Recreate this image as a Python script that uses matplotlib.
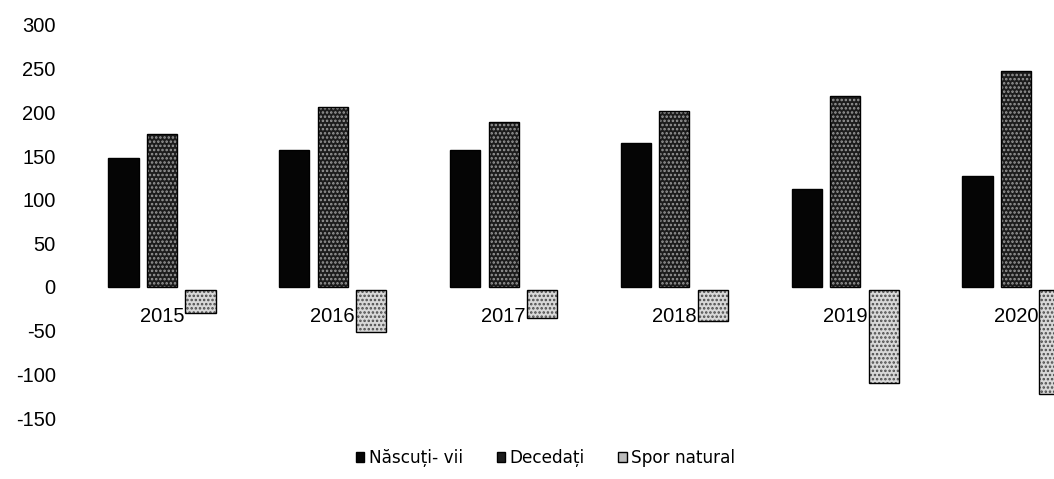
import matplotlib
matplotlib.use("Agg")
import matplotlib.pyplot as plt
from matplotlib import font_manager
from matplotlib.patches import Patch
import numpy as np

years = ["2015", "2016", "2017", "2018", "2019", "2020"]
nascuti = [148, 157, 157, 165, 112, 127]
decedati = [175, 206, 189, 201, 219, 247]
spor = [-27, -49, -32, -36, -107, -120]
series_names = ["Născuți- vii", "Decedați", "Spor natural"]
yticks = [-150, -100, -50, 0, 50, 100, 150, 200, 250, 300]

avail = {f.name for f in font_manager.fontManager.ttflist}
axis_font = "Liberation Sans" if "Liberation Sans" in avail else "DejaVu Sans"
plt.rcParams["font.family"] = ["DejaVu Sans"]
plt.rcParams["hatch.linewidth"] = 1.2

W, H = 1054, 479
fig = plt.figure(figsize=(W / 100, H / 100), dpi=100)
left_px, cat_px = 76.6, 170.8
ax_left = left_px / W
ax_bottom = (H - 418) / H
ax_top = (H - 25) / H
ax = fig.add_axes([ax_left, ax_bottom, 1 - ax_left, ax_top - ax_bottom])

x = np.arange(len(years))
step = 0.2254
width = 0.176

ax.bar(x - step, nascuti, width, color="#050505", edgecolor="black", linewidth=1)
ax.bar(x, decedati, width, color="#1c1c1c", hatch="....", edgecolor="#9a9a9a", linewidth=0)
ax.bar(x, decedati, width, color="none", edgecolor="black", linewidth=1)
sp_bottom = -3.0
ax.bar(x + step, spor, width, bottom=sp_bottom, color="#d8d8d8", hatch="....", edgecolor="#4a4a4a", linewidth=0)
ax.bar(x + step, spor, width, bottom=sp_bottom, color="none", edgecolor="black", linewidth=1)

xmax = -0.5 + (W - left_px) / cat_px
ax.set_xlim(-0.5, xmax)
ax.set_ylim(-150, 300)
ax.set_yticks(yticks)
ax.set_yticklabels([str(v) for v in yticks], fontsize=14.5, family=[axis_font, "DejaVu Sans"])
ax.tick_params(axis="y", length=0, pad=15)
ax.set_xticks([])
for s in ax.spines.values():
    s.set_visible(False)

for xi, yr in zip(x, years):
    ax.annotate(yr, xy=(xi, 0), xytext=(0, -29.5 * 72 / 100), textcoords="offset points",
                ha="center", va="center", fontsize=14.5, family=[axis_font, "DejaVu Sans"],
                zorder=5)

handles = [
    Patch(facecolor="#050505", edgecolor="black"),
    Patch(facecolor="#1c1c1c", edgecolor="black"),
    Patch(facecolor="#bcbcbc", edgecolor="black"),
]
fig.legend(handles, series_names, loc="center", bbox_to_anchor=(545.5 / W, 21 / H),
           ncol=3, frameon=False, fontsize=12.2, handlelength=0.5, handleheight=0.5,
           handletextpad=0.25, columnspacing=2.0)

fig.savefig("out.png", dpi=100)
